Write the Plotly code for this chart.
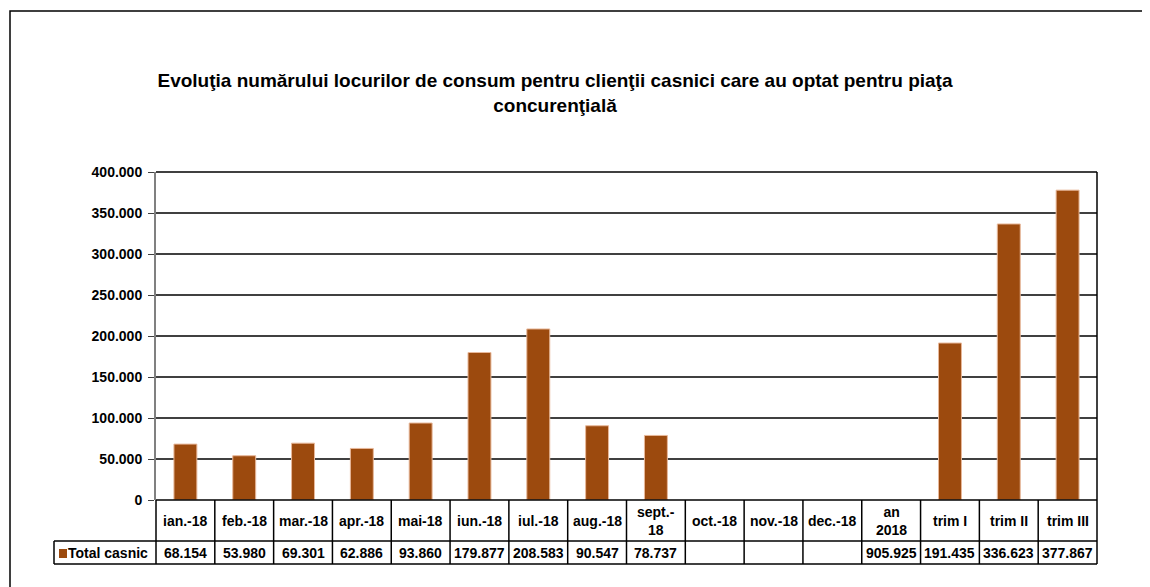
import plotly.graph_objects as go

# data
categories = ["ian.-18", "feb.-18", "mar.-18", "apr.-18", "mai-18", "iun.-18", "iul.-18",
              "aug.-18", "sept.-18", "oct.-18", "nov.-18", "dec.-18", "an 2018",
              "trim I", "trim II", "trim III"]
header_labels = ["ian.-18", "feb.-18", "mar.-18", "apr.-18", "mai-18", "iun.-18", "iul.-18",
                 "aug.-18", "sept.-<br>18", "oct.-18", "nov.-18", "dec.-18", "an<br>2018",
                 "trim I", "trim II", "trim III"]
table_values = [68154, 53980, 69301, 62886, 93860, 179877, 208583, 90547, 78737,
                None, None, None, 905925, 191435, 336623, 377867]
# the yearly total is listed in the table only, not drawn as a bar
bar_values = [68154, 53980, 69301, 62886, 93860, 179877, 208583, 90547, 78737,
              None, None, None, None, 191435, 336623, 377867]
series_name = "Total casnic"

BROWN = "#9C4A0E"
FONT = "Liberation Sans, Arial, sans-serif"
W, H = 1142, 579   # page has an 8px body margin
PW, PH = 941, 328  # plot area size in px

fig = go.Figure()
fig.add_trace(go.Bar(
    x=categories, y=bar_values, name=series_name,
    marker=dict(color=BROWN, line=dict(color="#E8B89A", width=1)),
    width=0.39, showlegend=False,
))

# table geometry (paper coords)
row1 = -41 / PH
row2 = -64 / PH
left_cell = (54 - 156) / PW

shapes = []
blk = dict(color="black", width=1.5)
# plot border (top, right, bottom)
shapes.append(dict(type="line", xref="paper", yref="paper", x0=0, x1=1, y0=1, y1=1, line=blk))
shapes.append(dict(type="line", xref="paper", yref="paper", x0=1, x1=1, y0=1, y1=row2, line=blk))
shapes.append(dict(type="line", xref="paper", yref="paper", x0=0, x1=1, y0=0, y1=0, line=blk))
# table lines
for yy in (row1, row2):
    shapes.append(dict(type="line", xref="paper", yref="paper", x0=left_cell, x1=1, y0=yy, y1=yy, line=blk))
shapes.append(dict(type="line", xref="paper", yref="paper", x0=left_cell, x1=left_cell,
                   y0=row1, y1=row2, line=blk))
shapes.append(dict(type="line", xref="paper", yref="paper", x0=0, x1=0, y0=0, y1=row2, line=blk))
for i in range(1, len(categories)):
    shapes.append(dict(type="line", xref="x", yref="paper", x0=i - 0.5, x1=i - 0.5,
                       y0=0, y1=row2, line=blk))
# legend key square
shapes.append(dict(type="rect", xref="paper", yref="paper",
                   x0=(59 - 156) / PW, x1=(67 - 156) / PW,
                   y0=-(558 - 500) / PH, y1=-(549 - 500) / PH,
                   fillcolor=BROWN, line=dict(width=0)))
# outer chart frame (runs off the right and bottom edges)
shapes.append(dict(type="rect", xref="paper", yref="paper",
                   x0=(10 - 156) / PW, x1=1.2,
                   y0=-0.5, y1=(500 - 11) / PH,
                   line=blk, layer="below"))

tfont = dict(family=FONT, size=14, color="black", weight="bold")
annotations = []
for cat, lab, val in zip(categories, header_labels, table_values):
    annotations.append(dict(x=cat, xref="x", y=row1 / 2, yref="paper", text=lab,
                            showarrow=False, font=tfont, yanchor="middle"))
    if val is not None:
        annotations.append(dict(x=cat, xref="x", y=(row1 + row2) / 2, yref="paper",
                                text=f"{val:,}".replace(",", "."),
                                showarrow=False, font=tfont, yanchor="middle"))
annotations.append(dict(x=(66 - 156) / PW, xref="paper", y=(row1 + row2) / 2, yref="paper",
                        text=series_name, xanchor="left", yanchor="middle",
                        showarrow=False, font=tfont))

fig.update_layout(
    width=W, height=H,
    margin=dict(l=148, r=W - 148 - PW, t=164, b=H - 164 - PH),
    paper_bgcolor="white", plot_bgcolor="white",
    separators=",.",
    title=dict(
        text="Evoluţia numărului locurilor de consum pentru clienţii casnici care au optat pentru piaţa<br>concurenţială",
        x=547 / W, xanchor="center", y=1 - 79 / H, yanchor="middle",
        font=dict(family=FONT, size=19, color="black", weight="bold"),
    ),
    xaxis=dict(showticklabels=False, showgrid=False, ticks="", showline=False,
               range=[-0.5, len(categories) - 0.5]),
    yaxis=dict(range=[0, 400000], dtick=50000, tickformat=",d",
               showgrid=True, gridcolor="#404040", gridwidth=1.5,
               showline=True, linecolor="#808080", linewidth=2,
               ticks="outside", ticklen=6, tickcolor="#404040",
               ticklabelstandoff=3, zeroline=False,
               tickfont=dict(family=FONT, size=14, color="black", weight="bold")),
    shapes=shapes,
    annotations=annotations,
)

fig.write_html("out.html")
